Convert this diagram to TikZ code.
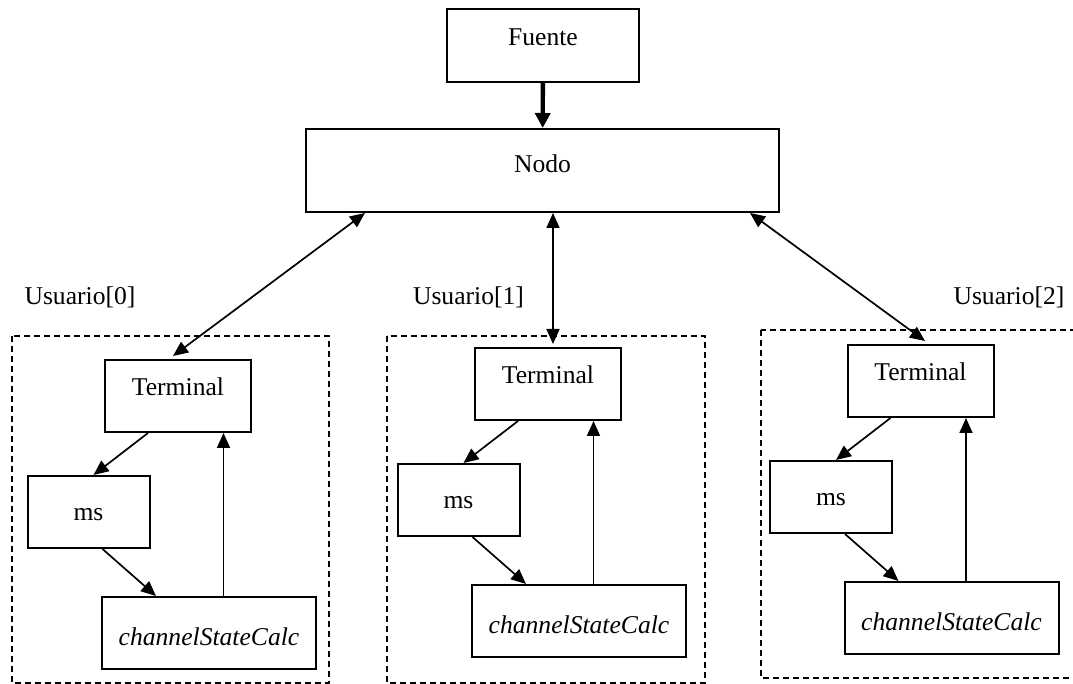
\documentclass[tikz,border=0pt]{standalone}
\usepackage{fontspec}
\setmainfont{Liberation Serif}
\usetikzlibrary{calc,arrows.meta,positioning}
\tikzset{
  blkbox/.style ={rectangle, draw=black, line width=1pt, inner sep=0pt,
                  font=\fontsize{12.8}{15}\selectfont},
  topbox/.style ={blkbox, minimum width=96pt, minimum height=36.5pt, text depth=8pt},
  nodobox/.style={blkbox, minimum width=236.5pt, minimum height=41.5pt, text depth=7pt},
  termbox/.style={blkbox, minimum width=73pt, minimum height=36pt, text depth=9pt},
  msbox/.style  ={blkbox, minimum width=61pt, minimum height=36pt, text height=9pt},
  cscbox/.style ={blkbox, minimum width=107pt, minimum height=36pt,
                  text height=12.5pt, text depth=0pt,
                  font=\fontsize{12.8}{15}\selectfont\itshape},
  grpframe/.style={draw=black, line width=0.75pt, dash pattern=on 3pt off 2pt},
  grplabel/.style={inner sep=0pt, font=\fontsize{12.8}{15}\selectfont},
  flow/.style   ={-{Triangle[length=7.5pt,width=6.5pt]}, line width=0.85pt},
  biflow/.style ={{Triangle[length=7.5pt,width=6.5pt]}-{Triangle[length=7.5pt,width=6.5pt]}, line width=0.85pt},
  feed/.style   ={-{Triangle[length=7.5pt,width=7.5pt]}, line width=2.2pt},
}

\begin{document}
\begin{tikzpicture}[x=0.5pt, y=-0.5pt]
  \useasboundingbox (0,0) rectangle (1073,684);
  \node[topbox]  (fuente) at (543,45.5)  {Fuente};
  \node[nodobox] (nodo)   at (542.5,170.5) {Nodo};
  \draw[feed] (fuente) -- (nodo);
  \foreach \i/\tx/\ty/\fa/\fb/\fc/\fd/\ux/\uy/\nx/\sx in
      {0/178/396/-166/-60/151/287/-98/-99/-177.5/-5,
       1/548/384/-161/-48/157/299/-79.5/-87/10.5/5,
       2/920.5/381/-159.5/-51/190/297/88.5/-84/207.5/4.5} {
    \begin{scope}[shift={(\tx,\ty)}]
      \node[termbox] (term\i) at (0,0)     {Terminal};
      \node[msbox]   (ms\i)   at (-89.5,116) {ms};
      \node[cscbox]  (csc\i)  at (31,237)  {channelStateCalc};
      \draw[grpframe] (\fa,\fb) rectangle (\fc,\fd);
      \node[grplabel] (user\i) at (\ux,\uy) {Usuario[\i]};
    \end{scope}
    \draw[flow] ($(term\i.south)+(-30,0)$) -- ($(ms\i.north)+(5,0)$);
    \draw[flow] ($(ms\i.south)+(14,0)$) -- ($(csc\i.north)+(-53,0)$);
    \draw[flow] ($(csc\i.north)+(14.5,0)$) -- ($(term\i.south)+(45.5,0)$);
    \draw[biflow] ($(nodo.south)+(\nx,0)$) -- ($(term\i.north)+(\sx,-3)$);
  }
\end{tikzpicture}
\end{document}
